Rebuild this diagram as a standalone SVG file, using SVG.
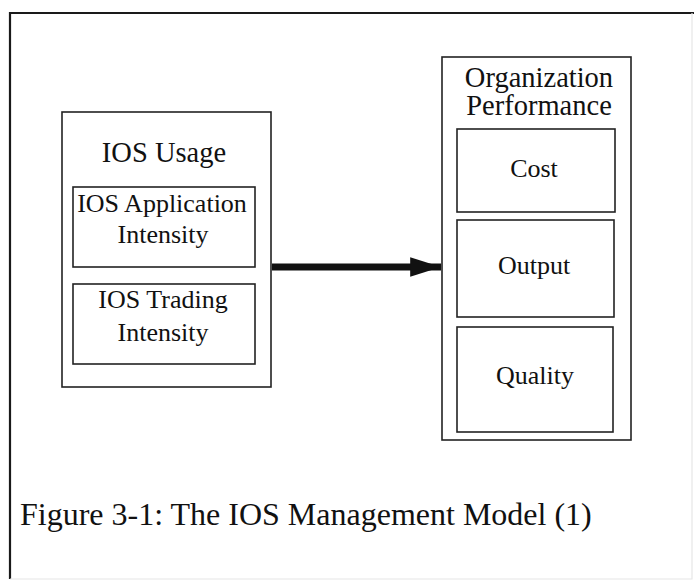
<svg xmlns="http://www.w3.org/2000/svg" width="694" height="581" viewBox="0 0 694 581">
  <style>
    .box { fill: #fff; stroke: #222; stroke-width: 1.6; }
    .lbl { font-family: "Liberation Serif", "Times New Roman", serif; fill: #111; text-anchor: middle; }
    .hd { font-size: 28.5px; }
    .in { font-size: 26px; }
    .cap { font-family: "Liberation Serif", "Times New Roman", serif; fill: #111; font-size: 32px; }
  </style>
  <defs>
    <marker id="head" viewBox="0 0 10 10" refX="10" refY="5" markerWidth="4.4" markerHeight="2.8" markerUnits="strokeWidth" orient="auto" preserveAspectRatio="none">
      <path d="M0,0 L10,5 L0,10 Z" fill="#111"/>
    </marker>
  </defs>
  <rect width="694" height="581" fill="#fff"/>

  <!-- page frame -->
  <g id="frame">
    <path d="M10,579 L10,13 L694,13" fill="none" stroke="#1a1a1a" stroke-width="2.2"/>
    <path d="M692,13 L692,579 L10,579" fill="none" stroke="#e6e6e6" stroke-width="1.2"/>
  </g>

  <!-- left group: IOS Usage -->
  <g id="ios-usage">
    <rect class="box" x="62" y="112" width="209" height="275"/>
    <text class="lbl hd" x="164" y="162">IOS Usage</text>
  </g>
  <g id="ios-application-intensity">
    <rect class="box" x="73" y="187" width="182" height="80"/>
    <text class="lbl in" x="162" y="212">IOS Application</text>
    <text class="lbl in" x="163" y="243">Intensity</text>
  </g>
  <g id="ios-trading-intensity">
    <rect class="box" x="73" y="284" width="182" height="80"/>
    <text class="lbl in" x="163" y="308">IOS Trading</text>
    <text class="lbl in" x="163" y="341">Intensity</text>
  </g>

  <!-- right group: Organization Performance -->
  <g id="organization-performance">
    <rect class="box" x="442" y="57" width="189" height="383"/>
    <text class="lbl hd" x="539" y="87">Organization</text>
    <text class="lbl hd" x="539" y="115">Performance</text>
  </g>
  <g id="cost">
    <rect class="box" x="457" y="129" width="158" height="83"/>
    <text class="lbl in" x="534" y="177">Cost</text>
  </g>
  <g id="output">
    <rect class="box" x="457" y="220" width="157" height="97"/>
    <text class="lbl in" x="534" y="274">Output</text>
  </g>
  <g id="quality">
    <rect class="box" x="457" y="327" width="156" height="105"/>
    <text class="lbl in" x="535" y="384">Quality</text>
  </g>

  <!-- connectors -->
  <g id="connectors">
    <line x1="272" y1="267" x2="441" y2="267" stroke="#111" stroke-width="7" marker-end="url(#head)"/>
  </g>

  <!-- caption -->
  <g id="caption">
    <text class="cap" x="20" y="525">Figure 3-1: The IOS Management Model (1)</text>
  </g>
</svg>
